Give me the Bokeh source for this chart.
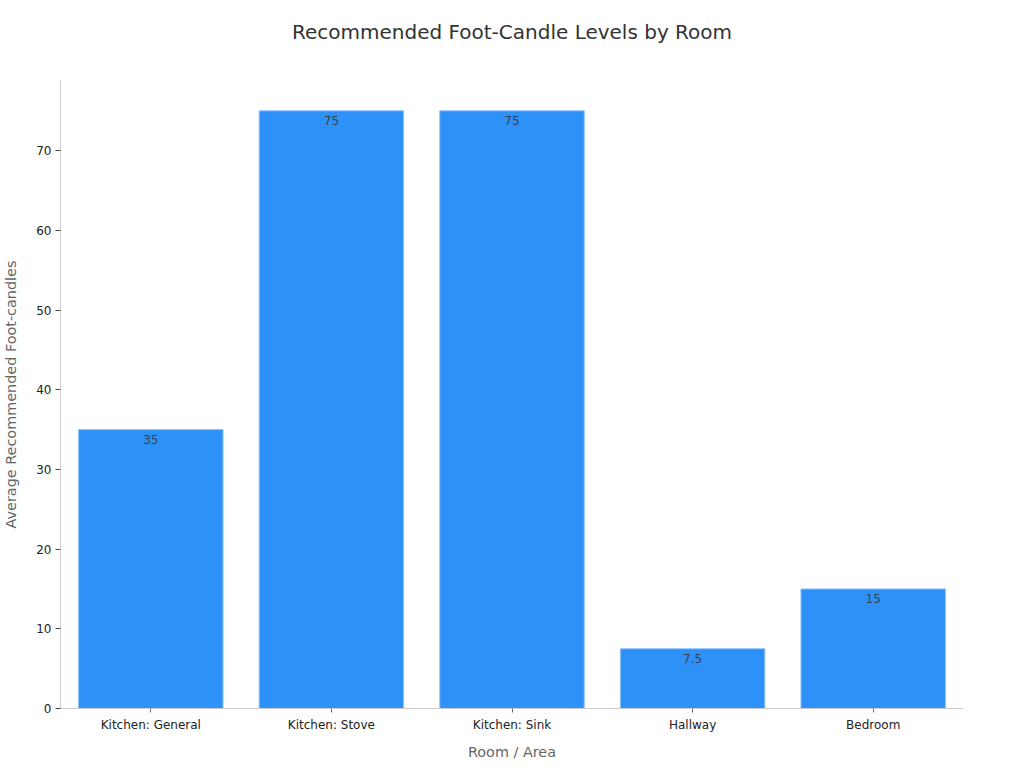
from bokeh.plotting import figure
from bokeh.models import ColumnDataSource, Range1d, FactorRange, SingleIntervalTicker, Title
from bokeh.embed import file_html
from bokeh.resources import INLINE
from bokeh.core.properties import value

title = "Recommended Foot-Candle Levels by Room"
categories = ["Kitchen: General", "Kitchen: Stove", "Kitchen: Sink", "Hallway", "Bedroom"]
values = [35, 75, 75, 7.5, 15]
labels = ["35", "75", "75", "7.5", "15"]
y_max = 78.8

src = ColumnDataSource(dict(cat=categories, val=values, lab=labels))

FONT = "DejaVu Sans"

p = figure(x_range=FactorRange(*categories, range_padding=0), y_range=Range1d(0, y_max),
           frame_width=903, frame_height=628, output_backend="svg", toolbar_location=None,
           title=title,
           min_border_left=56, min_border_right=49, min_border_top=80, min_border_bottom=52)

# blank spacer panel between the frame and the title
p.add_layout(Title(text=" ", text_font_size="10px", standoff=24), "above")

p.vbar(x="cat", top="val", width=0.8, source=src, fill_color="#2E91F8",
       line_color="#8CC4FB", line_width=1)
p.text(x="cat", y="val", text="lab", source=src, text_align="center", text_baseline="top",
       y_offset=5, text_font=value(FONT), text_font_size="12px", text_color="#333333",
       text_alpha=0.85)

p.title.align = "center"
p.title.text_font = FONT
p.title.text_font_size = "20px"
p.title.text_font_style = "normal"
p.title.text_color = "#333333"
p.title.standoff = 0

p.outline_line_color = None
p.grid.grid_line_color = None
p.background_fill_color = "white"

p.yaxis.ticker = SingleIntervalTicker(interval=10)
p.yaxis.axis_label = "Average Recommended Foot-candles"
p.xaxis.axis_label = "Room / Area"
for ax in (p.xaxis, p.yaxis):
    ax.axis_label_text_font = FONT
    ax.axis_label_text_font_size = "14.4px"
    ax.axis_label_text_font_style = "normal"
    ax.axis_label_text_color = "#666666"
    ax.major_label_text_font = FONT
    ax.major_label_text_font_size = "12px"
    ax.major_label_text_color = "#222222"
    ax.axis_line_color = "#CCCCCC"
    ax.minor_tick_line_color = None
    ax.major_tick_in = 0
p.yaxis.major_tick_out = 5
p.yaxis.major_tick_line_color = "#444444"
p.yaxis.major_label_standoff = 4
p.xaxis.major_tick_out = 4
p.xaxis.major_tick_line_color = "#666666"
p.yaxis.axis_label_standoff = 14
p.xaxis.axis_label_standoff = 9

open("out.html", "w").write(file_html(p, INLINE))
